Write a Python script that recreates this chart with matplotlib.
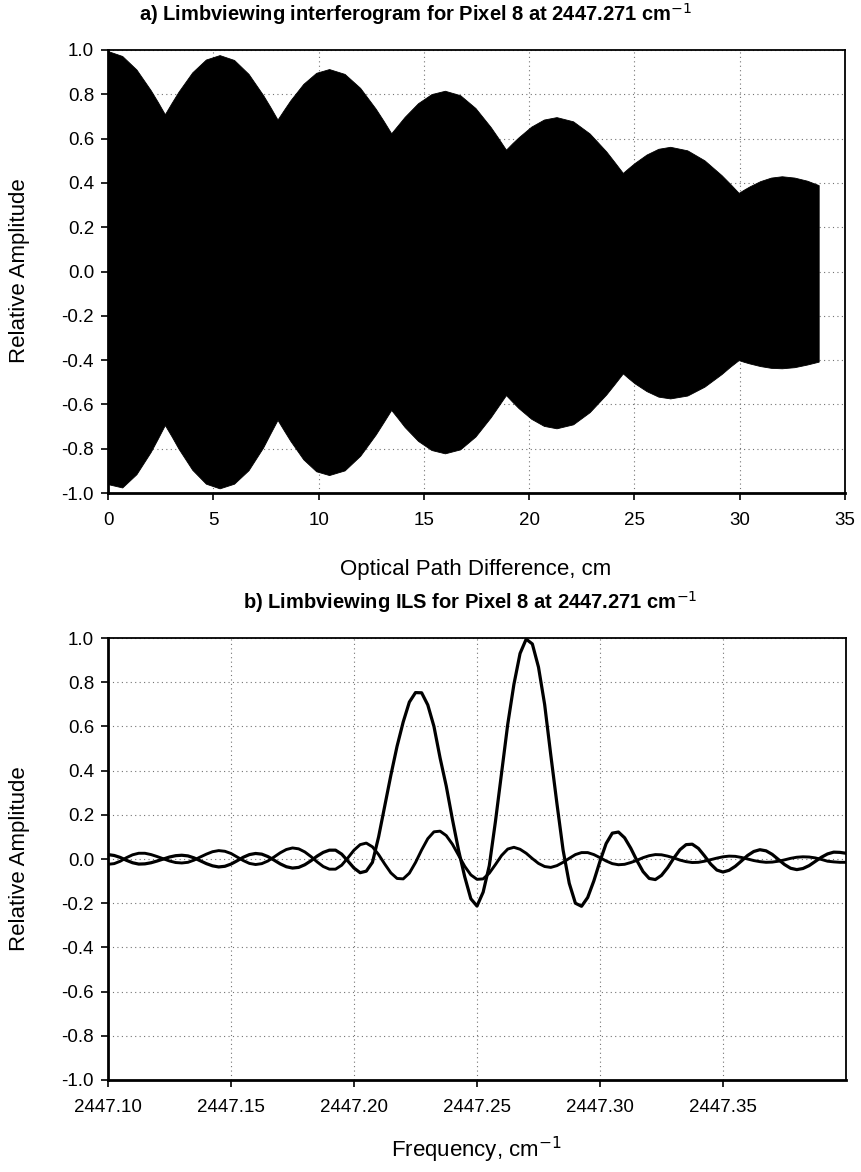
import matplotlib
matplotlib.use("Agg")
import matplotlib.pyplot as plt
import numpy as np

plt.rcParams['font.family'] = ['Liberation Sans', 'DejaVu Sans']

# ---------------- panel a: interferogram envelope -------------
opd = [0.0, 0.675, 1.35, 2.025, 2.3625, 2.7,
       3.025, 3.35, 4.0, 4.65, 5.3,
       5.9875, 6.675, 7.3625, 7.706, 8.05,
       8.356, 8.6625, 9.275, 9.8875, 10.5,
       11.2375, 11.975, 12.7125, 13.081, 13.45,
       13.769, 14.0875, 14.725, 15.3625, 16.0,
       16.725, 17.45, 18.175, 18.5375, 18.9,
       19.2, 19.5, 20.1, 20.7, 21.3,
       22.0875, 22.875, 23.6625, 24.056, 24.45,
       24.73, 25.0125, 25.575, 26.1375, 26.7,
       27.5125, 28.325, 29.1375, 29.544, 29.95,
       30.206, 30.4625, 30.975, 31.4875, 32.0,
       32.6, 33.2, 33.75]
env_upper = [0.995, 0.973, 0.912, 0.819, 0.766, 0.710,
             0.762, 0.812, 0.899, 0.957, 0.977,
             0.955, 0.892, 0.797, 0.743, 0.686,
             0.730, 0.773, 0.847, 0.897, 0.914,
             0.892, 0.829, 0.735, 0.681, 0.624,
             0.661, 0.698, 0.760, 0.801, 0.816,
             0.796, 0.738, 0.652, 0.602, 0.550,
             0.579, 0.606, 0.654, 0.686, 0.697,
             0.678, 0.623, 0.542, 0.494, 0.445,
             0.468, 0.490, 0.528, 0.554, 0.563,
             0.547, 0.502, 0.435, 0.396, 0.355,
             0.370, 0.384, 0.408, 0.424, 0.430,
             0.424, 0.410, 0.390]
env_lower = [-0.960, -0.975, -0.915, -0.815, -0.755, -0.693,
             -0.745, -0.800, -0.895, -0.958, -0.979,
             -0.958, -0.897, -0.795, -0.732, -0.670,
             -0.718, -0.765, -0.848, -0.902, -0.919,
             -0.898, -0.832, -0.736, -0.681, -0.625,
             -0.663, -0.702, -0.765, -0.806, -0.821,
             -0.803, -0.745, -0.658, -0.608, -0.558,
             -0.588, -0.617, -0.665, -0.697, -0.708,
             -0.690, -0.635, -0.555, -0.508, -0.460,
             -0.483, -0.505, -0.540, -0.565, -0.573,
             -0.560, -0.520, -0.463, -0.430, -0.400,
             -0.408, -0.415, -0.427, -0.435, -0.437,
             -0.432, -0.420, -0.407]

# ---------------- panel b: ILS curves -------------
freq = [2447.1000 + 0.0025 * i for i in range(121)]
ils_a = [0.020, 0.016, 0.007, -0.006, -0.017, -0.023, -0.022, -0.017, -0.009, 0.000,
         0.009, 0.015, 0.017, 0.014, 0.005, -0.008, -0.021, -0.031, -0.036, -0.033,
         -0.023, -0.008, 0.008, 0.020, 0.025, 0.022, 0.011, -0.005, -0.022, -0.035,
         -0.041, -0.038, -0.026, -0.008, 0.013, 0.030, 0.040, 0.040, 0.022, -0.009,
         -0.041, -0.062, -0.055, -0.015, 0.100, 0.240, 0.380, 0.510, 0.620, 0.710,
         0.753, 0.752, 0.697, 0.600, 0.457, 0.330, 0.180, 0.040, -0.080, -0.180,
         -0.213, -0.150, -0.030, 0.170, 0.390, 0.610, 0.790, 0.930, 0.995, 0.973,
         0.868, 0.699, 0.470, 0.250, 0.040, -0.110, -0.200, -0.214, -0.174, -0.099,
         -0.010, 0.070, 0.117, 0.122, 0.096, 0.049, -0.007, -0.057, -0.088, -0.093,
         -0.074, -0.039, 0.004, 0.042, 0.065, 0.067, 0.048, 0.014, -0.023, -0.050,
         -0.059, -0.051, -0.033, -0.009, 0.016, 0.034, 0.042, 0.037, 0.021, -0.002,
         -0.025, -0.042, -0.048, -0.043, -0.030, -0.011, 0.008, 0.023, 0.031, 0.030,
         0.026]
ils_b = [-0.024, -0.021, -0.010, 0.006, 0.019, 0.026, 0.026, 0.020, 0.011, 0.001,
         -0.009, -0.016, -0.018, -0.015, -0.005, 0.009, 0.022, 0.033, 0.038, 0.035,
         0.025, 0.009, -0.007, -0.020, -0.025, -0.021, -0.009, 0.009, 0.028, 0.043,
         0.050, 0.046, 0.032, 0.011, -0.013, -0.034, -0.046, -0.046, -0.028, 0.005,
         0.040, 0.065, 0.072, 0.055, 0.020, -0.023, -0.063, -0.088, -0.090, -0.064,
         -0.016, 0.041, 0.092, 0.123, 0.126, 0.106, 0.067, 0.017, -0.033, -0.072,
         -0.092, -0.090, -0.064, -0.025, 0.016, 0.045, 0.053, 0.044, 0.026, 0.002,
         -0.020, -0.034, -0.038, -0.030, -0.015, 0.003, 0.020, 0.029, 0.029, 0.020,
         0.006, -0.009, -0.021, -0.026, -0.024, -0.016, -0.006, 0.006, 0.015, 0.020,
         0.019, 0.013, 0.005, -0.005, -0.012, -0.016, -0.015, -0.010, -0.003, 0.004,
         0.010, 0.013, 0.012, 0.007, 0.000, -0.007, -0.012, -0.015, -0.014, -0.010,
         -0.004, 0.003, 0.008, 0.010, 0.009, 0.005, -0.002, -0.010, -0.013, -0.015,
         -0.015]

yticks = [-1.0, -0.8, -0.6, -0.4, -0.2, 0.0, 0.2, 0.4, 0.6, 0.8, 1.0]
ytick_labels = ['-1.0', '-0.8', '-0.6', '-0.4', '-0.2', '0.0', '0.2', '0.4', '0.6', '0.8', '1.0']
opd_ticks = [0, 5, 10, 15, 20, 25, 30, 35]
freq_ticks = [2447.10, 2447.15, 2447.20, 2447.25, 2447.30, 2447.35]
freq_tick_labels = ['2447.10', '2447.15', '2447.20', '2447.25', '2447.30', '2447.35']

W, H = 861, 1172
fig = plt.figure(figsize=(W / 100, H / 100), dpi=100)

TICK_FS = 13.5
LABEL_FS = 16
TITLE_FS = 14.5

def style(ax):
    ax.set_ylim(-1.0, 1.0)
    ax.set_yticks(yticks)
    ax.set_yticklabels(ytick_labels)
    ax.grid(True, color='0.45', linestyle=(0, (1, 3)), linewidth=0.8)
    ax.set_axisbelow(True)
    ax.tick_params(direction='out', length=5, width=1.2, labelsize=TICK_FS, pad=5,
                   top=False, right=False)
    for s in ax.spines.values():
        s.set_linewidth(1.3)
        s.set_color('black')
    ax.spines['bottom'].set_linewidth(2.0)
    ax.spines['left'].set_linewidth(2.0)

# top axes
ax1 = fig.add_axes([108 / W, 1 - 493 / H, (845 - 108) / W, (493 - 50) / H])
ax1.fill_between(opd, env_lower, env_upper, color='black', linewidth=0.6, zorder=2)
ax1.set_xlim(0, 35)
ax1.set_xticks(opd_ticks)
style(ax1)
ax1.tick_params(axis='x', pad=9)

# bottom axes
ax2 = fig.add_axes([108 / W, 1 - 1080 / H, (846 - 108) / W, (1080 - 638) / H])
ax2.plot(freq, ils_a, color='black', linewidth=2.3, zorder=3)
ax2.plot(freq, ils_b, color='black', linewidth=2.1, zorder=3)
ax2.set_xlim(2447.10, 2447.40)
ax2.set_xticks(freq_ticks)
ax2.set_xticklabels(freq_tick_labels)
style(ax2)
ax2.tick_params(axis='x', pad=9)

# titles and labels
fig.text(415 / W, 1 - 14 / H, 'a) Limbviewing interferogram for Pixel 8 at 2447.271 cm$^{-1}$',
         ha='center', va='center', fontsize=TITLE_FS, fontweight='bold')
fig.text(470 / W, 1 - 602 / H, 'b) Limbviewing ILS for Pixel 8 at 2447.271 cm$^{-1}$',
         ha='center', va='center', fontsize=TITLE_FS, fontweight='bold')
fig.text(476 / W, 1 - 570 / H, 'Optical Path Difference, cm',
         ha='center', va='center', fontsize=LABEL_FS)
fig.text(476 / W, 1 - 1150 / H, 'Frequency, cm$^{-1}$',
         ha='center', va='center', fontsize=LABEL_FS)
fig.text(20 / W, 1 - 271 / H, 'Relative Amplitude', rotation=90,
         ha='center', va='center', fontsize=LABEL_FS)
fig.text(20 / W, 1 - 859 / H, 'Relative Amplitude', rotation=90,
         ha='center', va='center', fontsize=LABEL_FS)

fig.savefig('out.png', dpi=100)
